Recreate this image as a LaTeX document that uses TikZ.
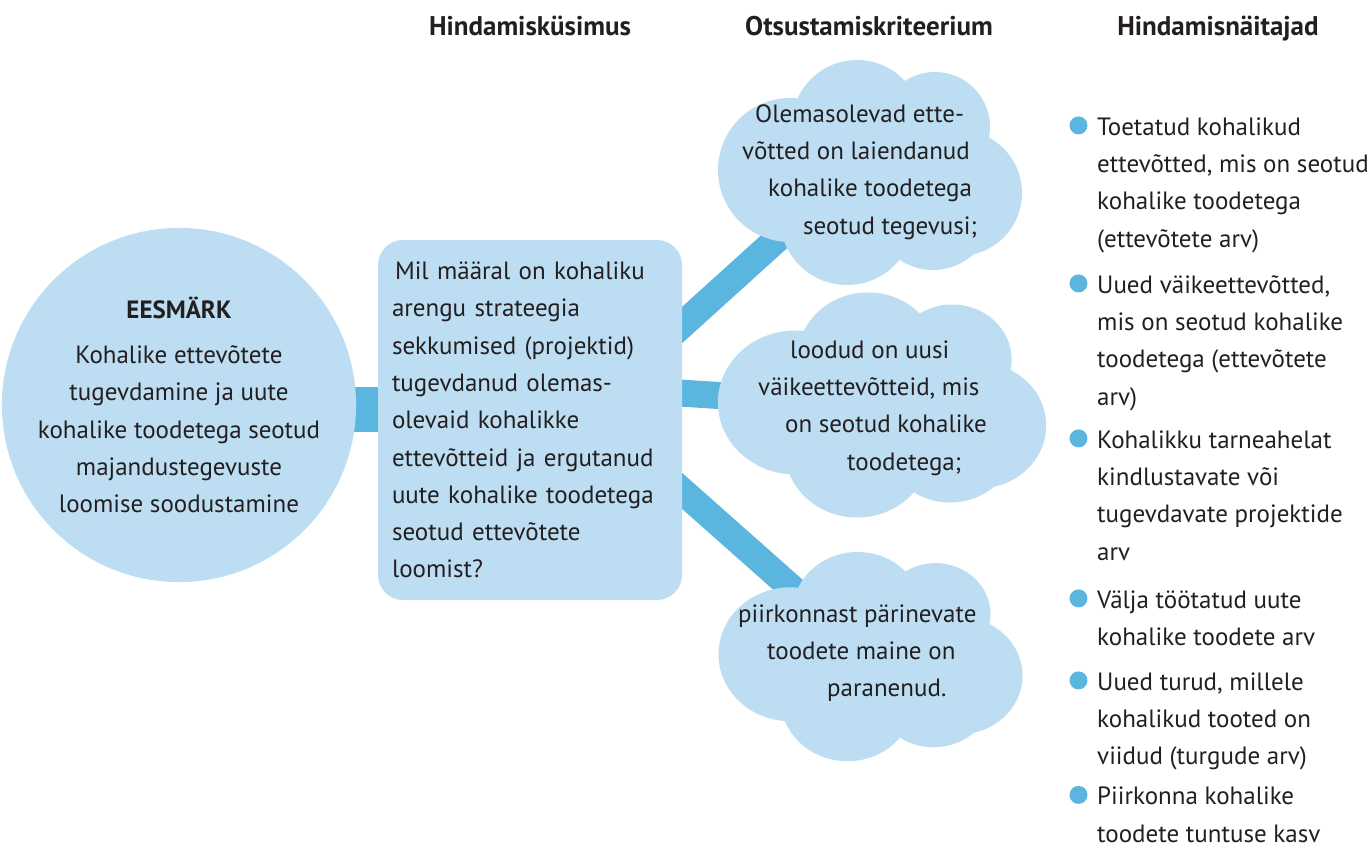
\documentclass[tikz,border=0pt]{standalone}
\usepackage{fontspec}
\setmainfont{PT Sans}
\usetikzlibrary{positioning, backgrounds}
\definecolor{paleblue}{HTML}{BCDDF2}
\definecolor{barblue}{HTML}{5BB6DF}
\definecolor{ink}{HTML}{231F20}
% strut that fixes the height of a first line
\newcommand{\firstln}{\rule{0pt}{26.1pt}}
\tikzset{
  body/.style={font=\fontsize{25}{37.3}\selectfont, text=ink},
  heading/.style={font=\fontsize{27}{30}\selectfont\bfseries, text=ink,
                  anchor=base, inner sep=0pt},
  goalC/.style={circle, fill=paleblue, minimum size=340pt, inner sep=0pt,
                align=center, body},
  questionB/.style={rectangle, rounded corners=25pt, fill=paleblue,
                    minimum width=304pt, minimum height=360pt,
                    text width=276pt, inner sep=0pt, align=left, body},
  cloudtext/.style={anchor=north west, align=left, inner sep=0pt, body},
  item/.style={anchor=north west, align=left, inner sep=0pt, body},
  dot/.style={circle, fill=barblue, minimum size=18pt, inner sep=0pt},
  bar/.style={draw=barblue, line width=27pt},
  critcloud/.pic={
    \fill[paleblue] (-79.5,-3.5) circle (72) (-12.5,-48.5) circle (65)
      (65.5,-46.5) circle (55) (89.5,19.5) circle (63)
      (63.5,36.5) circle (60) (-22.5,44.5) circle (67) (0.5,1.5) circle (85);
  },
}

\begin{document}
\begin{tikzpicture}[x=1pt, y=-1pt]
  \useasboundingbox (0,0) rectangle (1370,848);

  % column headings
  \node[heading] (hq) at (530,36) {Hindamisküsimus};
  \node[heading] (hc) at (869,36) {Otsustamiskriteerium};
  \node[heading] (hi) at (1218,36) {Hindamisnäitajad};

  % goal and question
  \node[goalC] (goal) at (179,405)
    {\textbf{EESMÄRK}\\[8pt]Kohalike ettevõtete\\tugevdamine ja uute\\
     kohalike toodetega seotud\\majandustegevuste\\loomise soodustamine};
  \node[questionB] (qbox) at (530,420)
    {\hspace*{3pt}Mil määral on kohaliku\\arengu strateegia\\
     sekkumised (projektid)\\tugevdanud olemas-\\olevaid kohalikke\\
     ettevõtteid ja ergutanud\\uute kohalike toodetega\\
     seotud ettevõtete\\loomist?};

  % criteria clouds
  \coordinate (crit1) at (869.5,173.5);
  \coordinate (crit2) at (881.5,406);
  \coordinate (crit3) at (870,657.5);
  \pic at (crit1) {critcloud};
  \pic[xscale=1.08] at (crit2) {critcloud};
  \pic[yscale=0.93] at (crit3) {critcloud};

  \node[cloudtext] (crit1txt) at (742,95.9)
    {\firstln\hspace*{13pt}Olemasolevad ette-\\võtted on laiendanud\\
     \hspace*{26pt}kohalike toodetega\\\hspace*{61pt}seotud tegevusi;};
  \node[cloudtext] (crit2txt) at (758,331.9)
    {\firstln\hspace*{32pt}loodud on uusi\\väikeettevõtteid, mis\\
     \hspace*{27pt}on seotud kohalike\\\hspace*{89pt}toodetega;};
  \node[cloudtext] (crit3txt) at (738,595.9)
    {\firstln piirkonnast pärinevate\\\hspace*{29pt}toodete maine on\\
     \hspace*{89pt}paranenud.};

  % indicators
  \node[item] (ind1) at (1097,108.9)
    {\firstln Toetatud kohalikud\\ettevõtted, mis on seotud\\kohalike toodetega\\(ettevõtete arv)};
  \node[item] (ind2) at (1097,266.9)
    {\firstln Uued väikeettevõtted,\\mis on seotud kohalike\\toodetega (ettevõtete\\arv)};
  \node[item] (ind3) at (1097,421.9)
    {\firstln Kohalikku tarneahelat\\kindlustavate või\\tugevdavate projektide\\arv};
  \node[item] (ind4) at (1097,581.9)
    {\firstln Välja töötatud uute\\kohalike toodete arv};
  \node[item] (ind5) at (1097,663.9)
    {\firstln Uued turud, millele\\kohalikud tooted on\\viidud (turgude arv)};
  \node[item] (ind6) at (1097,778.4)
    {\firstln Piirkonna kohalike\\toodete tuntuse kasv};

  \node[dot, below left=10pt and 12pt of ind1.north west] (dot1) {};
  \node[dot, below left=10pt and 12pt of ind2.north west] (dot2) {};
  \node[dot, below left=10pt and 12pt of ind3.north west] (dot3) {};
  \node[dot, below left=10pt and 12pt of ind4.north west] (dot4) {};
  \node[dot, below left=10pt and 12pt of ind5.north west] (dot5) {};
  \node[dot, below left=10pt and 12pt of ind6.north west] (dot6) {};

  % connectors behind the shapes
  \begin{scope}[on background layer]
    \draw[bar, line width=45pt] ([yshift=-4pt]goal.center) -- ([yshift=-4pt]goal.center -| qbox.center);
    \draw[bar, shorten <=-40pt] (qbox.32) -- ([xshift=-20pt]crit1);
    \draw[bar, shorten <=-20pt] (qbox.10) -- (crit2);
    \draw[bar, shorten <=-40pt] (qbox.-25) -- (crit3);
  \end{scope}
\end{tikzpicture}
\end{document}
